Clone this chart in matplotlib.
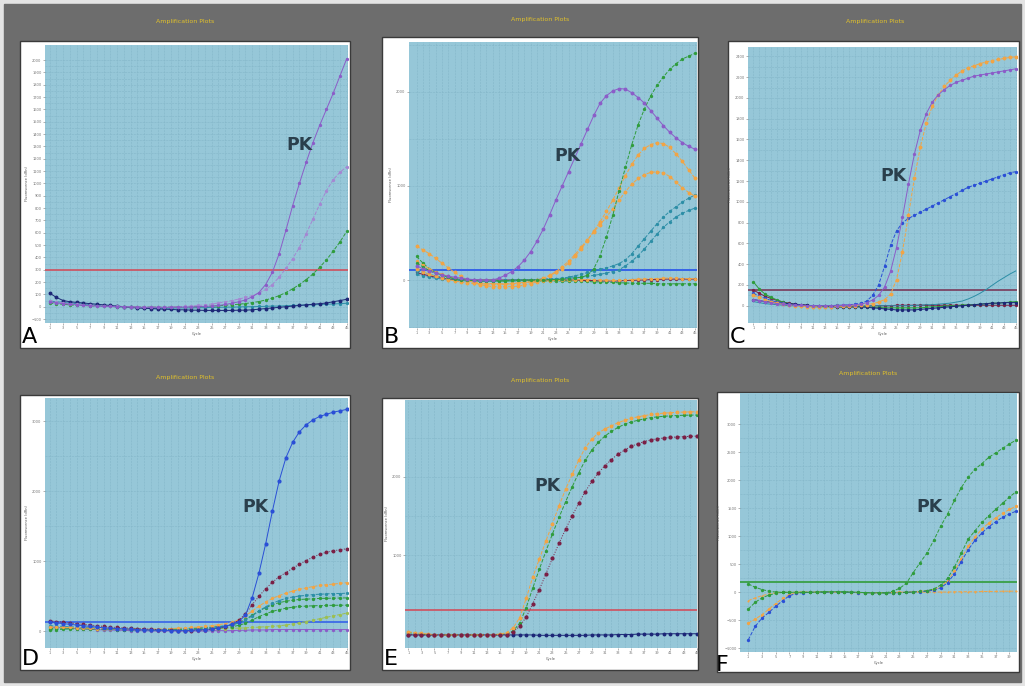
import numpy as np
import matplotlib
matplotlib.use('Agg')
import matplotlib.pyplot as plt
from matplotlib.patches import Rectangle

W, H = 1025, 686

# cycle numbers
cyc45 = np.arange(1, 46)
cyc40 = np.arange(1, 41)

# ---- panel A ----
A_pk = [40, 30, 25, 20, 15, 10, 8, 5, 3, 2,
        0, 0, -2, -3, -5, -5, -5, -5, -5, -3,
        -3, -2, 0, 2, 5, 10, 18, 28, 40, 55,
        80, 115, 180, 280, 430, 620, 820, 1000, 1170, 1330,
        1470, 1600, 1730, 1870, 2010]
A_pk2 = [50, 40, 30, 25, 20, 15, 10, 8, 5, 3,
         2, 0, 0, -2, -3, -3, -3, -3, -2, 0,
         2, 5, 10, 15, 22, 30, 40, 50, 62, 75,
         90, 110, 140, 180, 240, 310, 390, 480, 590, 710,
         830, 940, 1030, 1090, 1135]
A_green = [30, 25, 20, 15, 12, 10, 8, 5, 3, 2,
           0, 0, 0, -2, -2, -3, -3, -3, -3, -2,
           -2, 0, 0, 2, 5, 8, 12, 16, 20, 26,
           33, 42, 55, 70, 90, 115, 145, 180, 220, 265,
           320, 380, 450, 525, 610]
A_navy = [110, 75, 50, 40, 35, 30, 25, 20, 15, 10,
          5, 0, -5, -10, -12, -15, -18, -20, -22, -25,
          -25, -28, -28, -30, -30, -30, -30, -30, -28, -28,
          -25, -20, -15, -10, -5, 0, 5, 10, 15, 20,
          25, 30, 40, 50, 60]
A_navy2 = [45, 40, 35, 30, 25, 20, 15, 10, 5, 3,
           0, -3, -5, -8, -10, -10, -12, -12, -12, -10,
           -10, -10, -8, -8, -5, -5, -3, -3, -2, 0,
           0, 2, 3, 5, 5, 8, 10, 12, 15, 15,
           18, 20, 22, 25, 28]
A_thr = 300

# ---- panel B ----
B_pk = [150, 120, 95, 75, 55, 40, 30, 20, 10, 5,
        0, -5, 0, 20, 50, 90, 140, 210, 300, 410,
        540, 690, 850, 1000, 1150, 1300, 1450, 1600, 1750, 1880,
        1960, 2010, 2035, 2030, 1990, 1940, 1880, 1800, 1720, 1640,
        1570, 1510, 1460, 1420, 1390]
B_green = [180, 140, 100, 70, 50, 30, 15, 5, 0, -5,
           -10, -10, -10, -10, -10, -5, -5, 0, 0, 0,
           0, 5, 5, 10, 15, 20, 30, 50, 120, 260,
           460, 690, 950, 1200, 1440, 1650, 1820, 1960, 2070, 2160,
           2240, 2300, 2350, 2380, 2410]
B_or1 = [360, 320, 280, 230, 180, 130, 80, 40, 0, -30,
         -50, -60, -70, -70, -70, -70, -65, -55, -40, -20,
         10, 40, 80, 120, 180, 250, 330, 420, 520, 620,
         730, 850, 980, 1110, 1230, 1330, 1400, 1440, 1460, 1450,
         1410, 1340, 1260, 1170, 1080]
B_or2 = [120, 90, 60, 40, 20, 5, -10, -20, -30, -35,
         -40, -40, -45, -45, -45, -40, -35, -30, -20, -5,
         20, 50, 90, 140, 200, 270, 350, 430, 510, 590,
         670, 760, 850, 940, 1020, 1080, 1120, 1145, 1150, 1140,
         1100, 1040, 980, 930, 890]
B_teal1 = [100, 80, 60, 45, 30, 20, 10, 5, 0, -5,
           -10, -10, -10, -10, -5, -5, 0, 0, 5, 5,
           10, 10, 15, 20, 30, 45, 60, 80, 100, 115,
           130, 150, 175, 215, 280, 360, 440, 520, 600, 670,
           730, 780, 830, 870, 905]
B_teal2 = [60, 45, 30, 20, 10, 5, 0, -5, -10, -10,
           -10, -10, -10, -5, -5, 0, 0, 0, 5, 5,
           10, 10, 15, 15, 20, 25, 30, 40, 50, 60,
           75, 90, 110, 150, 200, 260, 330, 410, 490, 560,
           620, 670, 710, 740, 765]
B_flat_or = [200, 160, 120, 90, 60, 40, 20, 5, -10, -20,
             -30, -35, -40, -40, -40, -35, -30, -25, -20, -15,
             -10, -10, -5, -5, 0, 0, 5, 5, 5, 0,
             0, -5, -5, 0, 5, 10, 10, 15, 15, 20,
             20, 20, 15, 15, 15]
B_flat_gr = [250, 180, 120, 80, 50, 30, 15, 5, 0, -5,
             -10, -10, -10, -10, -10, -10, -10, -10, -10, -10,
             -10, -10, -10, -10, -10, -10, -15, -15, -20, -20,
             -25, -25, -30, -30, -35, -35, -35, -35, -40, -40,
             -40, -40, -40, -40, -40]
B_flat_red = [80, 60, 45, 30, 20, 10, 5, 0, 0, 0,
              0, 0, 0, 0, 0, 0, 0, 0, 0, 0,
              0, 0, 0, 0, 0, 0, -5, -5, -5, -10,
              -10, -10, -10, -5, -5, 0, 0, 5, 5, 10,
              10, 10, 10, 10, 10]
B_thr = 110

# ---- panel C ----
C_pk = [60, 50, 40, 30, 20, 15, 10, 5, 5, 0,
        0, 0, 0, 0, 0, 5, 5, 10, 15, 30,
        55, 100, 180, 330, 560, 850, 1170, 1460, 1690, 1850,
        1960, 2030, 2080, 2120, 2150, 2170, 2190, 2210, 2220, 2230,
        2240, 2250, 2260, 2270, 2280]
C_or = [100, 80, 60, 40, 25, 15, 5, 0, -5, -10,
        -10, -10, -10, -10, -5, -5, 0, 0, 5, 10,
        20, 35, 60, 110, 250, 520, 870, 1230, 1530, 1760,
        1920, 2030, 2110, 2170, 2220, 2260, 2290, 2310, 2330, 2345,
        2360, 2370, 2380, 2390, 2395]
C_blue = [120, 90, 70, 50, 35, 25, 15, 10, 5, 0,
          0, 0, 0, 0, 5, 5, 10, 15, 25, 45,
          100, 200, 380, 580, 720, 800, 840, 870, 900, 930,
          960, 990, 1020, 1050, 1080, 1110, 1140, 1160, 1180, 1200,
          1220, 1240, 1260, 1280, 1290]
C_teal = [40, 30, 20, 15, 10, 5, 0, 0, 0, 0,
          0, 0, 0, 0, 0, 0, 0, 0, 0, 0,
          0, 0, 0, 0, 0, 0, 0, 5, 5, 10,
          10, 15, 20, 25, 35, 45, 65, 90, 120, 155,
          195, 235, 270, 305, 335]
C_green = [230, 160, 110, 80, 55, 35, 20, 10, 0, -5,
           -10, -10, -10, -10, -10, -10, -10, -10, -10, -10,
           -15, -15, -20, -20, -20, -20, -20, -20, -20, -15,
           -10, -10, -5, 0, 0, 5, 10, 10, 15, 20,
           25, 25, 30, 35, 40]
C_navy = [60, 50, 40, 35, 30, 25, 20, 15, 10, 5,
          0, 0, -5, -5, -10, -10, -10, -10, -10, -15,
          -20, -25, -30, -35, -40, -40, -40, -40, -35, -30,
          -25, -20, -15, -10, -5, 0, 5, 10, 15, 20,
          25, 25, 30, 30, 30]
C_red = [150, 120, 90, 70, 50, 35, 25, 15, 10, 5,
         0, -5, -5, -10, -10, -10, -10, -10, -5, -5,
         0, 0, 0, 0, 5, 5, 5, 5, 5, 5,
         5, 5, 5, 5, 5, 5, 5, 5, 5, 5,
         5, 5, 5, 5, 5]
C_thr = 147

# ---- panel D ----
D_pk = [130, 120, 110, 100, 90, 80, 70, 60, 50, 45,
        40, 35, 30, 25, 20, 20, 15, 15, 10, 10,
        10, 15, 20, 25, 35, 50, 70, 100, 140, 230,
        480, 830, 1250, 1720, 2150, 2480, 2700, 2850, 2950, 3020,
        3070, 3100, 3130, 3150, 3170]
D_red = [150, 140, 130, 120, 110, 100, 90, 80, 70, 60,
         55, 50, 45, 40, 35, 30, 25, 20, 15, 10,
         10, 10, 15, 20, 30, 45, 65, 100, 160, 250,
         380, 500, 610, 700, 780, 840, 900, 960, 1010, 1060,
         1100, 1130, 1150, 1165, 1180]
D_or = [60, 60, 55, 55, 50, 45, 45, 40, 40, 35,
        35, 30, 30, 30, 30, 30, 35, 35, 40, 45,
        50, 55, 60, 70, 80, 95, 110, 130, 165, 220,
        290, 360, 420, 470, 510, 545, 575, 600, 620, 640,
        655, 665, 675, 685, 695]
D_teal = [80, 75, 70, 65, 60, 55, 50, 45, 40, 35,
          30, 30, 25, 25, 25, 25, 25, 30, 30, 35,
          40, 45, 50, 55, 60, 70, 80, 95, 120, 160,
          220, 290, 350, 400, 440, 470, 490, 505, 515, 525,
          530, 535, 540, 540, 545]
D_green1 = [40, 45, 50, 50, 50, 45, 45, 40, 40, 35,
            35, 30, 30, 30, 25, 25, 25, 30, 30, 30,
            35, 40, 45, 50, 55, 65, 75, 90, 120, 170,
            230, 290, 340, 380, 410, 430, 445, 455, 460, 465,
            470, 472, 474, 476, 478]
D_green2 = [20, 25, 30, 35, 35, 35, 35, 30, 30, 30,
            25, 25, 25, 20, 20, 20, 20, 20, 25, 25,
            25, 30, 30, 35, 40, 45, 55, 65, 85, 115,
            160, 210, 250, 285, 310, 330, 345, 355, 360, 365,
            368, 370, 372, 373, 374]
D_lgreen = [60, 55, 55, 50, 50, 45, 45, 40, 40, 35,
            35, 30, 30, 30, 30, 25, 25, 25, 25, 25,
            30, 30, 30, 35, 35, 40, 40, 45, 45, 50,
            55, 60, 65, 70, 80, 90, 105, 120, 140, 160,
            180, 200, 220, 240, 260]
D_purple = [60, 55, 50, 45, 40, 35, 30, 25, 20, 20,
            15, 15, 10, 10, 10, 5, 5, 5, 5, 5,
            5, 5, 5, 5, 10, 10, 10, 10, 15, 15,
            20, 20, 20, 25, 25, 25, 25, 25, 25, 25,
            25, 25, 25, 25, 25]
D_thr = 130

# ---- panel E ----
E_or = [20, 10, 0, -10, -15, -20, -20, -20, -20, -20,
        -20, -20, -20, -15, -10, 10, 70, 200, 450, 720,
        950, 1180, 1400, 1630, 1840, 2030, 2210, 2370, 2480, 2560,
        2610, 2650, 2690, 2720, 2745, 2765, 2780, 2795, 2805, 2812,
        2818, 2822, 2826, 2828, 2830]
E_green = [10, 0, -10, -15, -20, -20, -20, -20, -20, -20,
           -20, -20, -20, -20, -15, 0, 30, 130, 330, 580,
           820, 1050, 1270, 1480, 1680, 1870, 2050, 2210, 2340, 2440,
           2520, 2580, 2630, 2670, 2700, 2720, 2740, 2755, 2765, 2772,
           2778, 2782, 2785, 2787, 2788]
E_red = [-15, -20, -20, -20, -20, -20, -20, -20, -20, -20,
         -20, -20, -20, -20, -20, -15, 20, 90, 210, 380,
         560, 760, 960, 1150, 1330, 1500, 1660, 1810, 1940, 2050,
         2140, 2220, 2290, 2340, 2390, 2420, 2450, 2470, 2485, 2495,
         2502, 2508, 2512, 2516, 2519]
E_navy = [-20, -20, -20, -20, -20, -20, -20, -20, -20, -20,
          -20, -20, -20, -20, -20, -20, -20, -20, -20, -20,
          -25, -25, -25, -25, -25, -25, -25, -25, -20, -20,
          -20, -20, -15, -15, -15, -10, -10, -10, -10, -5,
          -5, -5, -5, -5, -5]
E_thr = 300

# ---- panel F (40 cycles) ----
F_pk = [150, 90, 50, 20, 5, 0, 0, 0, 0, 0,
        5, 10, 10, 10, 10, 5, 0, -5, -5, -10,
        -10, 20, 70, 160, 350, 530, 700, 930, 1180, 1400,
        1640, 1870, 2060, 2200, 2300, 2410, 2490, 2570, 2650, 2720]
F_green2 = [-300, -180, -100, -50, -20, 0, 0, 0, 0, 0,
            5, 5, 10, 10, 5, 5, 0, -5, -10, -10,
            -10, -10, -5, 0, 5, 15, 30, 60, 130, 250,
            450, 700, 950, 1100, 1250, 1370, 1480, 1590, 1700, 1800]
F_blue = [-850, -610, -460, -360, -250, -150, -60, -20, -5, 0,
          0, 0, 5, 5, 0, 0, -5, -5, -10, -10,
          -10, -10, -5, 0, 5, 10, 20, 40, 80, 170,
          330, 550, 760, 930, 1060, 1170, 1260, 1340, 1400, 1450]
F_or = [-550, -480, -400, -300, -200, -110, -40, -10, 0, 0,
        0, 5, 5, 5, 5, 0, -5, -5, -10, -10,
        -10, -5, 0, 5, 10, 20, 30, 50, 100, 200,
        380, 600, 820, 990, 1130, 1240, 1330, 1410, 1480, 1540]
F_flat = [-150, -100, -60, -30, -10, 0, 0, 5, 5, 5,
          5, 5, 5, 0, 0, -5, -5, -5, -5, -5,
          -5, 0, 0, 0, 0, 0, 5, 5, 5, 5,
          10, 10, 10, 10, 15, 15, 15, 20, 20, 20]
F_thr = 190

# colours
purple = '#8b5cc8'
purple2 = '#a487d2'
green = '#2f9c3c'
navy = '#1d2777'
orange = '#f2a444'
teal = '#2c8ea6'
dred = '#7a1f45'
blue = '#2a4fd6'
lgreen = '#9cbf50'
face = '#96c7d8'
gridc = '#84b6c8'

fig = plt.figure(figsize=(W / 100, H / 100), dpi=100)
fig.patch.set_facecolor('#e4e4e4')
fig.patches.append(Rectangle((4 / W, 4 / H), (W - 8) / W, (H - 8) / H,
                             transform=fig.transFigure, color='#6d6d6d', zorder=-10))


def px_axes(l, t, r, b):
    return fig.add_axes([l / W, 1 - b / H, (r - l) / W, (b - t) / H])


def white_box(l, t, r, b):
    fig.patches.append(Rectangle((l / W, 1 - b / H), (r - l) / W, (b - t) / H,
                                 transform=fig.transFigure, facecolor='white',
                                 edgecolor='#3a3a3a', lw=1.0, zorder=-5))


def ftext(x, y, s, **kw):
    fig.text(x / W, 1 - y / H, s, **kw)


def curve(ax, y, c, ls='-', ms=2.4, lw=0.7):
    x = np.arange(1, len(y) + 1)
    ax.plot(x, y, color=c, ls=ls, lw=lw, marker='o', ms=ms, mec=c, mfc=c, mew=0, zorder=3)


def setup(ax, xlim, ylim, ymajor, yminor, xt):
    ax.set_facecolor(face)
    ax.set_xlim(*xlim)
    ax.set_ylim(*ylim)
    ax.set_xticks(xt)
    ax.set_xticks(np.arange(1, xt[-1] + 1), minor=True)
    ax.set_yticks(ymajor)
    ax.set_yticks(yminor, minor=True)
    ax.tick_params(labelsize=2.6, colors='#777777', length=1.5, width=0.4, pad=1.0)
    ax.tick_params(which='minor', length=0)
    ax.grid(True, which='both', color=gridc, lw=0.4, ls='--', zorder=0)
    for s in ax.spines.values():
        s.set_visible(False)
    ax.set_xlabel('Cycle', fontsize=2.6, color='#555555', labelpad=1)
    ax.set_ylabel('Fluorescence (dRn)', fontsize=2.6, color='#555555', labelpad=2)


# white panel boxes
white_box(20, 41, 350, 348)
white_box(382, 37, 698, 348)
white_box(728, 41, 1019, 348)
white_box(20, 395, 350, 670)
white_box(382, 398, 698, 670)
white_box(717, 392, 1019, 672)

xt45 = np.arange(1, 46, 2)
xt40 = np.arange(1, 41, 2)

# A
ax = px_axes(45, 45, 348, 323)
setup(ax, (0.3, 45.2), (-132, 2122), np.arange(-100, 2001, 100), np.arange(-100, 2001, 50), xt45)
curve(ax, A_navy2, teal)
curve(ax, A_navy, navy, ms=2.8)
curve(ax, A_green, green, ls='--')
curve(ax, A_pk2, purple2, ls='--')
curve(ax, A_pk, purple)
ax.axhline(A_thr, color='#d0505e', lw=1.2, zorder=2)

# B
ax = px_axes(409, 42, 697, 328)
setup(ax, (-0.2, 45.3), (-510, 2530), [0, 1000, 2000], np.arange(-500, 2501, 500), xt45)
curve(ax, B_flat_red, dred)
curve(ax, B_flat_gr, green, ls='--')
curve(ax, B_flat_or, orange, ls='--')
ax.axhline(B_thr, color='#3563e8', lw=1.4, zorder=2)
curve(ax, B_teal2, teal, ls='--')
curve(ax, B_teal1, teal, ls='--')
curve(ax, B_or2, orange, ls='--', ms=2.8)
curve(ax, B_or1, orange, ls='--', ms=2.8)
curve(ax, B_green, green, ls='--')
curve(ax, B_pk, purple, ms=2.8)

# C
ax = px_axes(748, 47, 1017, 323)
setup(ax, (0.1, 45.2), (-166, 2490), np.arange(0, 2401, 200), np.arange(0, 2401, 100), xt45)
curve(ax, C_red, dred)
curve(ax, C_green, green)
curve(ax, C_navy, navy)
curve(ax, C_teal, teal, ms=0)
ax.axhline(C_thr, color='#7a3a5a', lw=1.2, zorder=2)
curve(ax, C_blue, blue, ls='--')
curve(ax, C_or, orange, ls='--', ms=2.8)
curve(ax, C_pk, purple)

# D
ax = px_axes(45, 398, 348, 648)
setup(ax, (0.3, 45.2), (-238, 3333), [0, 1000, 2000, 3000], np.arange(0, 3001, 500), xt45)
curve(ax, D_purple, purple)
curve(ax, D_lgreen, lgreen, ls='--')
curve(ax, D_green2, green, ls='--')
curve(ax, D_green1, green, ls='--')
curve(ax, D_teal, teal, ls='--')
curve(ax, D_or, orange, ls='--')
ax.axhline(D_thr, color='#3563e8', lw=1.2, zorder=2)
curve(ax, D_red, dred, ls=':', ms=2.8)
curve(ax, D_pk, blue, ms=3)

# E
ax = px_axes(405, 400, 697, 648)
setup(ax, (0.5, 45.05), (-187, 2980), [1000, 2000], np.arange(0, 2501, 500), xt45)
curve(ax, E_navy, navy, ms=2.8)
ax.axhline(E_thr, color='#d0505e', lw=1.2, zorder=2)
curve(ax, E_green, green, ls='--')
curve(ax, E_or, orange, ls='--', ms=2.8)
curve(ax, E_red, dred, ls=':', ms=3)

# F
ax = px_axes(740, 393, 1017, 652)
setup(ax, (-0.2, 40.1), (-1066, 3559), np.arange(-1000, 3001, 500), np.arange(-1000, 3001, 250), xt40)
curve(ax, F_flat, orange, ls='--', ms=1.5)
curve(ax, F_or, orange, ls='--')
curve(ax, F_blue, blue, ls='--')
curve(ax, F_green2, green, ls='--')
ax.axhline(F_thr, color='#3aa046', lw=1.3, zorder=2)
curve(ax, F_pk, green, ls='--')

# titles
for x, y in [(185, 21), (540, 19), (875, 21), (185, 377), (540, 380), (868, 373)]:
    ftext(x, y, 'Amplification Plots', fontsize=4.5, color='#e2c22a', ha='center', va='center')

# PK labels
for x, y in [(300, 145), (568, 156), (893, 176), (256, 507), (547, 486), (929, 507)]:
    ftext(x, y, 'PK', fontsize=12.5, fontweight='bold', color='#2a3f4c', ha='center', va='center')

# panel letters (F sits a little lower/left so it clears the tick labels)
for x, y, s in [(22, 347, 'A'), (384, 347, 'B'), (730, 347, 'C'),
                (22, 669, 'D'), (384, 669, 'E'), (716, 675, 'F')]:
    ftext(x, y, s, fontsize=16, color='black', ha='left', va='bottom')

fig.savefig('out.png', dpi=100, facecolor=fig.get_facecolor())
